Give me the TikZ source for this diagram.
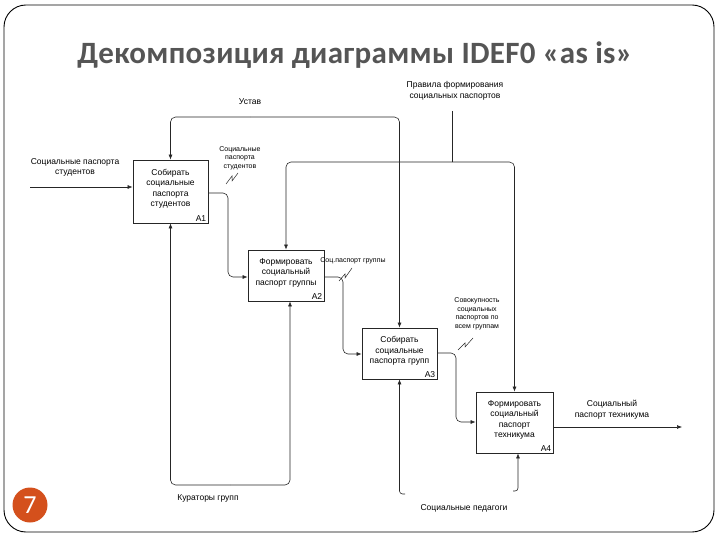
\documentclass[tikz,border=0pt]{standalone}
\usepackage{fontspec}
\setmainfont{Liberation Sans}
\newfontfamily\titlefont[LetterSpace=1]{Carlito}
\newfontfamily\numfont{Carlito}
\usetikzlibrary{positioning, arrows.meta}
\definecolor{badge}{HTML}{D4501C}
\definecolor{titlegray}{HTML}{555555}

\begin{document}
\begin{tikzpicture}[x=1pt, y=-1pt,
    func/.style={draw=black!85, line width=0.8pt, inner sep=0pt, align=center,
                 text depth=7pt, font=\fontsize{8.5}{10.5}\selectfont},
    idx/.style={anchor=south east, inner sep=2pt, font=\fontsize{8.5}{9}\selectfont},
    flow/.style={draw=black!85, line width=0.6pt, rounded corners=5pt,
                 -{Latex[length=5pt, width=4pt]}},
    plain/.style={draw=black!85, line width=0.6pt},
    lbl/.style={align=center, inner sep=0pt, font=\fontsize{8.5}{10.5}\selectfont},
    small/.style={align=center, inner sep=0pt, font=\fontsize{7}{8.5}\selectfont},
    squig/.style={draw=black!85, line width=0.5pt}]

    \useasboundingbox (0,0) rectangle (720,540);

    % Frame and title
    \draw[line width=0.9pt, rounded corners=22pt] (4,5) rectangle (714,532);
    \node[font=\titlefont\bfseries\fontsize{31}{34}\selectfont, text=titlegray] (title)
        at (355,55) {Декомпозиция диаграммы IDEF0 «as is»};

    % Page number
    \node[circle, fill=badge, minimum size=35pt, inner sep=0pt, text=white,
          font=\numfont\fontsize{26}{26}\selectfont] (page) at (30,505) {7};

    % Functions
    \node[func, minimum width=75pt, minimum height=63pt] (A1) at (170.5,191.5)
        {Собирать\\социальные\\паспорта\\студентов};
    \node[func, minimum width=76pt, minimum height=51pt] (A2) at (286,275.5)
        {Формировать\\социальный\\паспорт группы};
    \node[func, minimum width=75pt, minimum height=51pt] (A3) at (399.5,353.5)
        {Собирать\\социальные\\паспорта групп};
    \node[func, minimum width=77pt, minimum height=61pt] (A4) at (514.5,422.5)
        {Формировать\\социальный\\паспорт\\техникума};
    \node[idx] (n1) at (A1.south east) {A1};
    \node[idx] (n2) at (A2.south east) {A2};
    \node[idx] (n3) at (A3.south east) {A3};
    \node[idx] (n4) at (A4.south east) {A4};

    % Input and outputs
    \coordinate (in1) at (30,187);
    \draw[flow] (in1) -- (A1.west |- in1);
    \node[lbl] (l-in1) at (75,167.5) {Социальные паспорта\\студентов};

    \draw[flow] (A1.east |- 0,193) -| (228,277) -- (A2.west |- 0,277);
    \draw[flow] (A2.east |- 0,277) -| (343,354) -- (A3.west |- 0,354);
    \draw[flow] (A3.east |- 0,353) -| (456,422) -- (A4.west |- 0,422);

    \coordinate (out4) at (682,427);
    \draw[flow] (A4.east |- out4) -- (out4);
    \node[lbl] (l-out4) at (612,409.5) {Социальный\\паспорт техникума};

    % Controls
    \coordinate (ustav) at (250,117);
    \draw[flow] (ustav) -| (A1.north);
    \draw[flow] (ustav) -| (A3.north);
    \node[lbl] (l-ustav) at (250,102) {Устав};

    \coordinate (prav) at (452,111);
    \coordinate (prav2) at (452,162);
    \draw[plain] (prav) -- (prav2);
    \draw[flow] (prav2) -| (A2.north);
    \draw[flow] (prav2) -| (A4.north);
    \node[lbl] (l-prav) at (455,91) {Правила формирования\\социальных паспортов};

    % Mechanisms
    \coordinate (kur) at (230,485);
    \draw[flow] (kur) -| (A1.south);
    \draw[flow] (kur) -| (A2.south -| 290,0);
    \node[lbl] (l-kur) at (208,498) {Кураторы групп};

    \coordinate (ped1) at (405,494);
    \coordinate (ped2) at (513,491);
    \draw[flow, rounded corners=3pt] (ped1) -| (A3.south);
    \draw[flow, rounded corners=3pt] (ped2) -| (A4.south -| 518,0);
    \node[lbl] (l-ped) at (464,508) {Социальные педагоги};

    % Squiggle labels
    \node[small] (l-s1) at (240,158) {Социальные\\паспорта\\студентов};
    \draw[squig] (226,184) -- (232,176) -- (232,181) -- (238,173);
    \node[small] (l-s2) at (353,261) {Соц.паспорт группы};
    \draw[squig] (339,281) -- (345,274) -- (345,278) -- (352,268);
    \node[small] (l-s3) at (477,314) {Совокупность\\социальных\\паспортов по\\всем группам};
    \draw[squig] (458,350) -- (465,343) -- (465,347) -- (473,338);

\end{tikzpicture}
\end{document}
